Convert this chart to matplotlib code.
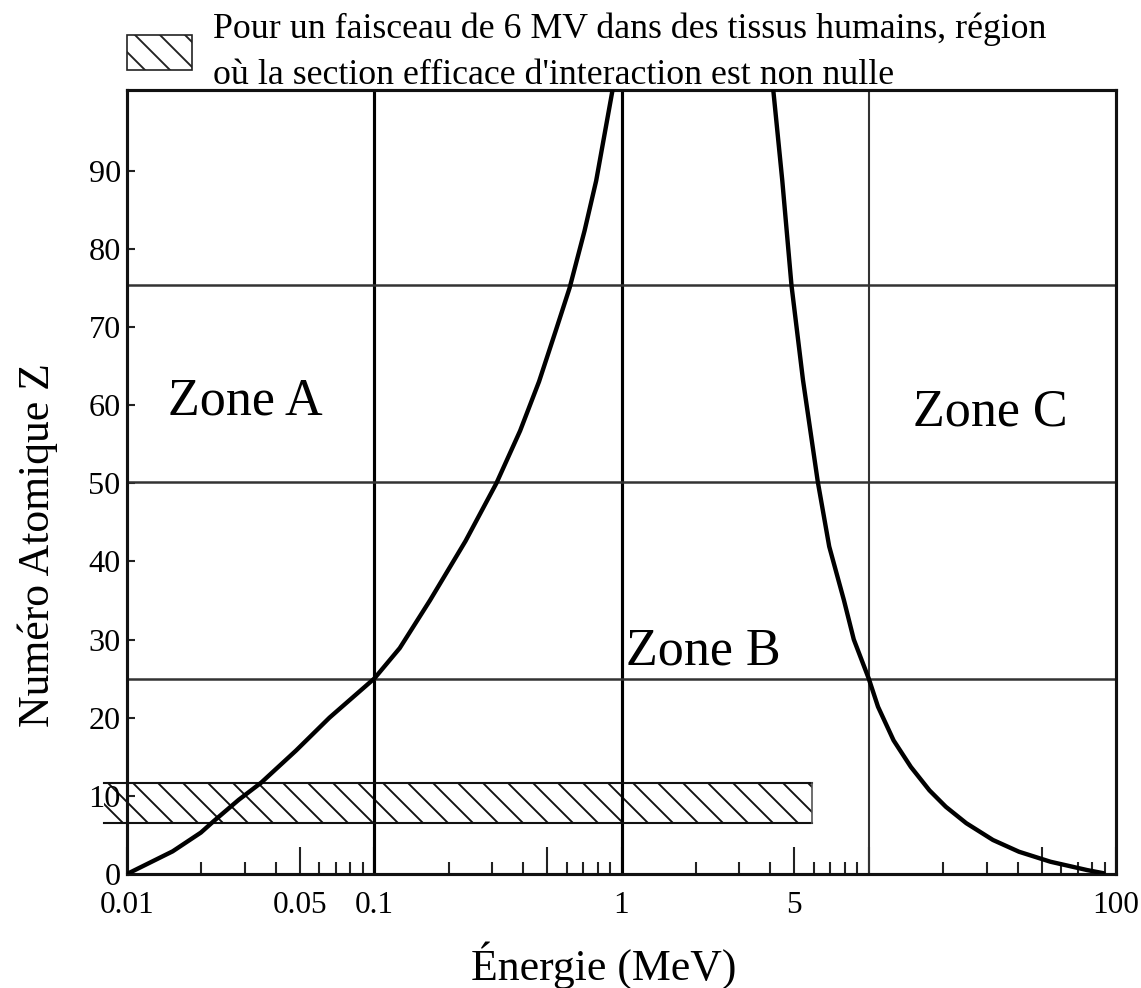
import matplotlib
matplotlib.use("Agg")
import matplotlib.pyplot as plt
from matplotlib.patches import Rectangle, Patch
from matplotlib.ticker import FixedLocator, FixedFormatter, NullFormatter

plt.rcParams['font.family'] = ['Liberation Serif', 'DejaVu Serif']
plt.rcParams['hatch.linewidth'] = 0.9

# ---- data ----
# boundary photoelectric / Compton (energy MeV, Z)
curve1_E = [0.01, 0.0153, 0.0199, 0.0224, 0.0283, 0.0349, 0.0483, 0.0659, 0.1, 0.1268,
            0.168, 0.234, 0.312, 0.389, 0.464, 0.542, 0.617, 0.709, 0.79, 0.92]
curve1_Z = [0, 2.9, 5.3, 6.75, 9.49, 11.69, 15.8, 20.0, 25, 28.9,
            35, 42.6, 50, 56.7, 63, 69.5, 75, 82.3, 88.7, 100.3]
# boundary Compton / pair production
curve2_E = [4.11, 4.47, 4.87, 5.42, 6.22, 6.92, 7.94, 8.7, 10, 10.9,
            12.6, 14.8, 17.6, 20.5, 24.8, 31.8, 40.5, 54.3, 76.5, 89]
curve2_Z = [100.3, 88.7, 75.3, 63.2, 50.2, 41.9, 35.0, 30, 25, 21.4,
            17.1, 13.7, 10.7, 8.6, 6.5, 4.35, 2.85, 1.57, 0.5, 0.1]

vlines_E = [0.1, 1, 10]
hlines_Z = [25, 50.2, 75.4]

band_E = [0.0081, 5.9]
band_Z = [6.5, 11.6]

xtick_vals = [0.01, 0.05, 0.1, 0.5, 1, 5, 10, 50, 100]
xtick_labels = ['0.01', '0.05', '0.1', '', '1', '5', '', '', '100']
xminor_vals = [0.02, 0.03, 0.04, 0.06, 0.07, 0.08, 0.09,
               0.2, 0.3, 0.4, 0.6, 0.7, 0.8, 0.9,
               2, 3, 4, 6, 7, 8, 9,
               20, 30, 40, 60, 70, 80, 90]
ytick_vals = [0, 10, 20, 30, 40, 50, 60, 70, 80, 90]
ytick_labels = ['0', '10', '20', '30', '40', '50', '60', '70', '80', '90']

zones = ['Zone A', 'Zone B', 'Zone C']
zone_E = [0.030, 2.14, 31]
zone_Z = [60.5, 28.5, 59]

legend_label = ("Pour un faisceau de 6 MV dans des tissus humains, région\n"
                "où la section efficace d'interaction est non nulle")

# ---- figure ----
DPI = 150
fig = plt.figure(figsize=(1141 / DPI, 988 / DPI), dpi=DPI)
ax = fig.add_axes([127 / 1141, (988 - 874) / 988, (1116 - 127) / 1141, (874 - 90) / 988])
ax.set_xscale('log')
ax.set_xlim(0.01, 100)
ax.set_ylim(0, 100.3)

for s in ax.spines.values():
    s.set_linewidth(1.5)
    s.set_color('#111111')

# grid-like lines
for e, lw, c in zip(vlines_E, [1.5, 1.5, 1.0], ['#000000', '#000000', '#333333']):
    ax.axvline(e, color=c, lw=lw, zorder=2)
for z in hlines_Z:
    ax.axhline(z, color='#333333', lw=1.2, zorder=2)

# hatched band
band = Rectangle((band_E[0], band_Z[0]), band_E[1] - band_E[0], band_Z[1] - band_Z[0],
                 facecolor='none', edgecolor='#111111', hatch='\\\\', lw=0,
                 clip_on=False, zorder=1)
ax.add_patch(band)
for z in band_Z:
    ax.plot([band_E[0], band_E[1]], [z, z], color='#111111', lw=1.0, clip_on=False, zorder=2)
ax.plot([band_E[1], band_E[1]], band_Z, color='#555555', lw=0.8, clip_on=False, zorder=2)

# curves
ax.plot(curve1_E, curve1_Z, color='black', lw=2.1, zorder=4,
        solid_capstyle='round', solid_joinstyle='round')
ax.plot(curve2_E, curve2_Z, color='black', lw=2.1, zorder=4,
        solid_capstyle='round', solid_joinstyle='round')

# ticks
ax.xaxis.set_major_locator(FixedLocator(xtick_vals))
ax.xaxis.set_major_formatter(FixedFormatter(xtick_labels))
ax.xaxis.set_minor_locator(FixedLocator(xminor_vals))
ax.xaxis.set_minor_formatter(NullFormatter())
ax.tick_params(axis='x', which='major', direction='in', length=13, width=1.0,
               labelsize=15, pad=8, color='#222222')
ax.tick_params(axis='x', which='minor', direction='in', length=5.8, width=1.0,
               color='#222222')
ax.set_yticks(ytick_vals)
ax.set_yticklabels(ytick_labels)
ax.tick_params(axis='y', which='major', direction='in', length=4, width=1.0,
               labelsize=15.5, pad=3, color='#222222')

# zone labels
for t, e, z in zip(zones, zone_E, zone_Z):
    ax.text(e, z, t, fontsize=25, ha='center', va='center', zorder=5)

# axis labels
ax.set_xlabel('Énergie (MeV)', fontsize=21)
ax.xaxis.label.set_va('center')
ax.xaxis.set_label_coords(0.482, -0.116)
ax.set_ylabel('Numéro Atomique Z', fontsize=21)
ax.yaxis.label.set_va('center')
ax.yaxis.set_label_coords(-0.090, 0.42)

# legend
handle = Patch(facecolor='white', edgecolor='#222222', hatch='\\\\', lw=0.8, label=legend_label)
leg = fig.legend(handles=[handle], loc='upper left', bbox_to_anchor=(127 / 1141, 0.987),
                 frameon=False, fontsize=17.2, handlelength=1.8, handleheight=1.15,
                 handletextpad=0.6, borderpad=0, borderaxespad=0)
for t in leg.get_texts():
    t.set_linespacing(1.5)

fig.savefig('out.png', dpi=DPI)
